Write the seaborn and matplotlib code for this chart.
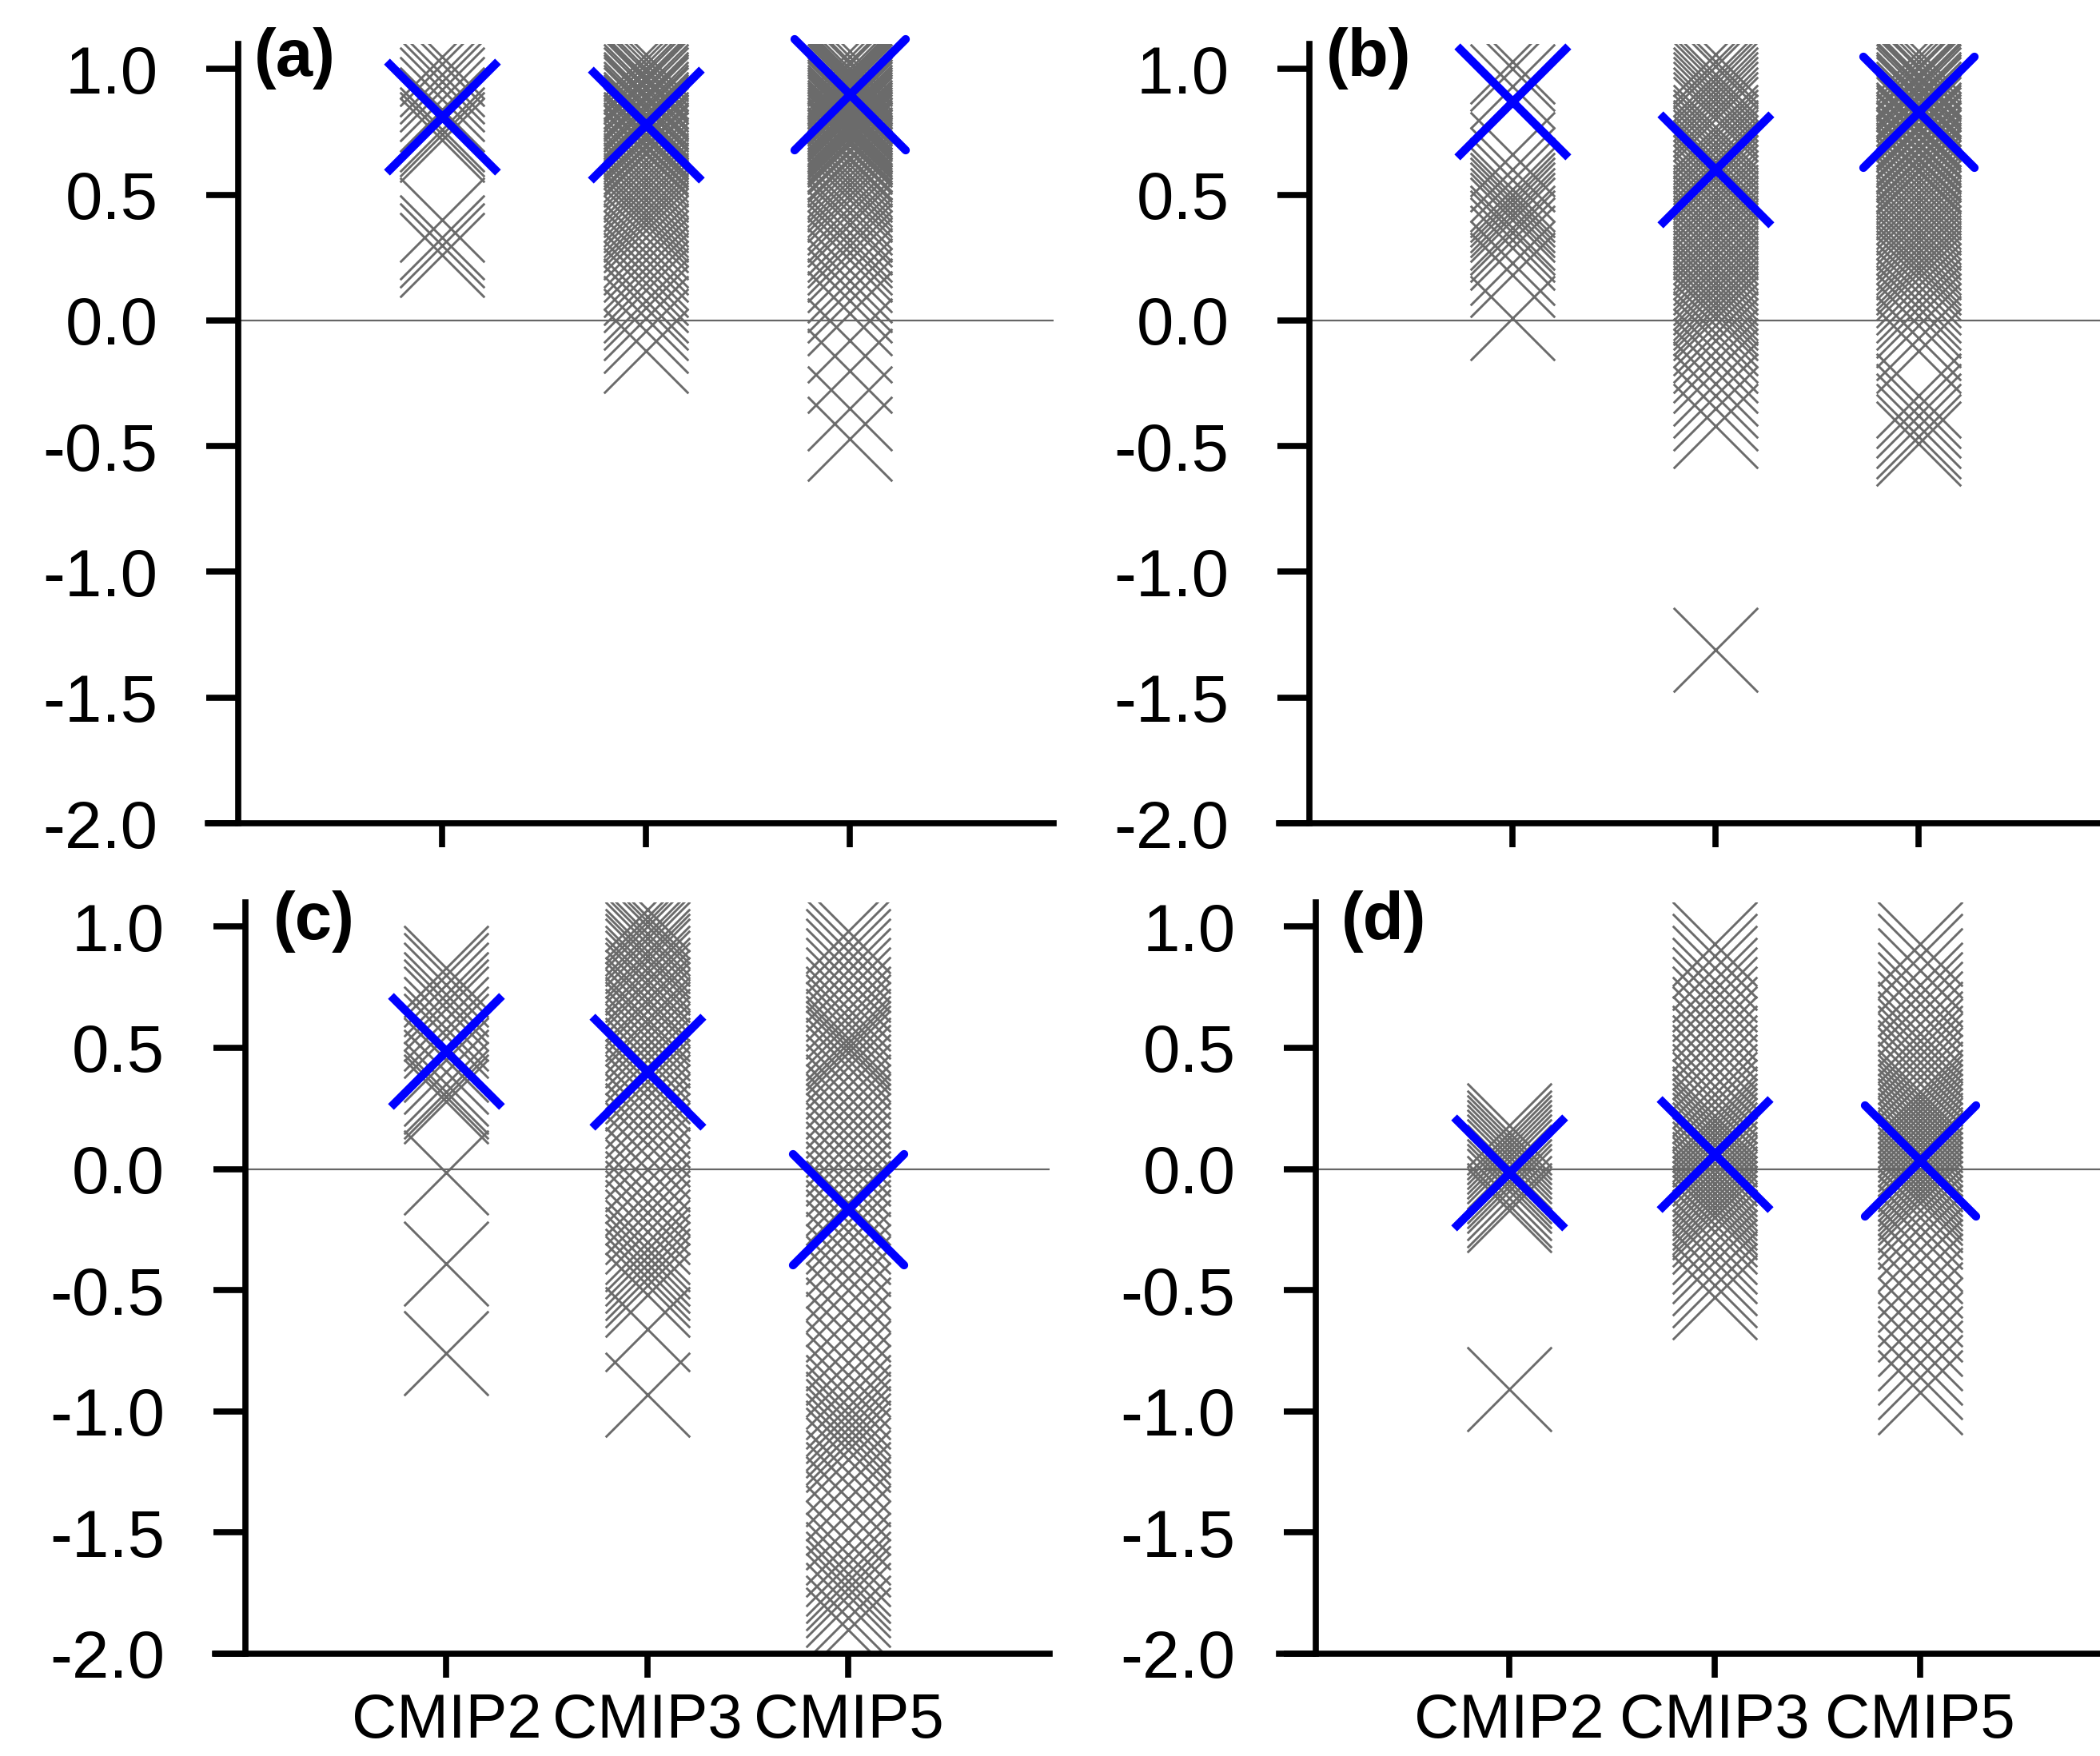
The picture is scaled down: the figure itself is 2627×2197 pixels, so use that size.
import matplotlib
matplotlib.use("Agg")
import matplotlib.pyplot as plt
import pandas as pd
import seaborn as sns

# ---------------- data ----------------
categories = ["CMIP2", "CMIP3", "CMIP5"]
panel_labels = ["(a)", "(b)", "(c)", "(d)"]
ytick_values = [-2.0, -1.5, -1.0, -0.5, 0.0, 0.5, 1.0]

# panel (a)
a_cmip2 = [1.05, 1.02, 0.98, 0.95, 0.92, 0.88, 0.84, 0.80, 0.76, 0.74, 0.72,
           0.40, 0.33, 0.30, 0.26]
a_cmip3 = [1.06, 1.04, 1.02, 1.00, 0.99, 0.97, 0.96, 0.95, 0.93, 0.92, 0.90,
           0.89, 0.88, 0.86, 0.85, 0.84, 0.82, 0.81, 0.80, 0.78, 0.77, 0.76,
           0.74, 0.73, 0.72, 0.70, 0.69, 0.67, 0.66, 0.64, 0.62, 0.60, 0.58,
           0.56, 0.54, 0.52, 0.50, 0.48, 0.46, 0.44, 0.42, 0.40, 0.38, 0.36,
           0.33, 0.30, 0.27, 0.24, 0.21, 0.18, 0.15, 0.12, 0.08, 0.05, 0.01,
           -0.04, -0.12]
a_cmip5 = [1.07, 1.05, 1.03, 1.02, 1.00, 0.99, 0.98, 0.97, 0.96, 0.95, 0.94,
           0.93, 0.92, 0.91, 0.90, 0.89, 0.88, 0.87, 0.86, 0.85, 0.84, 0.83,
           0.82, 0.81, 0.80, 0.79, 0.78, 0.77, 0.76, 0.75, 0.74, 0.73, 0.72,
           0.71, 0.70, 0.68, 0.67, 0.65, 0.64, 0.62, 0.60, 0.58, 0.56, 0.54,
           0.52, 0.50, 0.48, 0.45, 0.43, 0.40, 0.38, 0.35, 0.32, 0.30, 0.27,
           0.24, 0.20, 0.16, 0.12, 0.08, 0.03, -0.08, -0.20, -0.35, -0.47]
a_blue = [0.81, 0.78, 0.90]

# panel (b)
b_cmip2 = [1.03, 1.00, 0.93, 0.86, 0.66, 0.60, 0.56, 0.52, 0.50, 0.48, 0.46,
           0.44, 0.42, 0.40, 0.37, 0.35, 0.32, 0.29, 0.23, 0.18, 0.01]
b_cmip3 = [1.06, 1.03, 1.01, 0.98, 0.96, 0.94, 0.92, 0.90, 0.88, 0.86, 0.84,
           0.82, 0.80, 0.77, 0.75, 0.73, 0.71, 0.69, 0.67, 0.65, 0.63, 0.61,
           0.59, 0.57, 0.55, 0.53, 0.51, 0.49, 0.47, 0.45, 0.43, 0.41, 0.39,
           0.37, 0.35, 0.33, 0.31, 0.29, 0.27, 0.25, 0.23, 0.21, 0.19, 0.17,
           0.15, 0.13, 0.11, 0.09, 0.07, 0.05, 0.03, 0.01, -0.02, -0.05, -0.08,
           -0.12, -0.16, -0.20, -0.25, -0.30, -0.35, -0.42, -1.31]
b_cmip5 = [1.07, 1.05, 1.03, 1.01, 1.00, 0.98, 0.97, 0.96, 0.94, 0.93, 0.92,
           0.90, 0.89, 0.88, 0.86, 0.85, 0.84, 0.82, 0.81, 0.80, 0.78, 0.77,
           0.76, 0.74, 0.73, 0.71, 0.70, 0.68, 0.67, 0.65, 0.64, 0.62, 0.60,
           0.59, 0.57, 0.55, 0.53, 0.51, 0.49, 0.47, 0.45, 0.43, 0.41, 0.39,
           0.37, 0.35, 0.33, 0.31, 0.29, 0.27, 0.25, 0.23, 0.21, 0.19, 0.17,
           0.14, 0.11, 0.08, 0.05, 0.02, -0.02, -0.07, -0.12, -0.30, -0.34,
           -0.38, -0.42, -0.46, -0.49]
b_blue = [0.87, 0.60, 0.83]

# panel (c)
c_cmip2 = [0.83, 0.80, 0.76, 0.72, 0.69, 0.66, 0.62, 0.58, 0.55, 0.50, 0.45,
           0.40, 0.35, 0.32, 0.30, 0.28, -0.015, -0.39, -0.76]
c_cmip3 = [1.07, 1.04, 1.02, 1.00, 0.97, 0.95, 0.93, 0.90, 0.88, 0.86, 0.83,
           0.81, 0.78, 0.76, 0.73, 0.70, 0.68, 0.65, 0.62, 0.60, 0.57, 0.54,
           0.51, 0.48, 0.45, 0.42, 0.39, 0.36, 0.33, 0.30, 0.26, 0.22, 0.18,
           0.14, 0.10, 0.05, 0.00, -0.05, -0.10, -0.14, -0.18, -0.22, -0.26,
           -0.30, -0.33, -0.36, -0.39, -0.42, -0.45, -0.48, -0.52, -0.66, -0.93]
c_cmip5 = [0.98, 0.94, 0.90, 0.86, 0.82, 0.78, 0.74, 0.70, 0.66, 0.63, 0.60,
           0.57, 0.54, 0.52, 0.50, 0.48, 0.45, 0.42, 0.38, 0.34, 0.30, 0.26,
           0.22, 0.18, 0.14, 0.10, 0.06, 0.02, -0.02, -0.06, -0.10, -0.14,
           -0.18, -0.22, -0.26, -0.30, -0.35, -0.40, -0.45, -0.50, -0.56, -0.62,
           -0.68, -0.74, -0.80, -0.85, -0.90, -0.94, -0.98, -1.01, -1.04, -1.07,
           -1.10, -1.13, -1.16, -1.20, -1.25, -1.30, -1.36, -1.42, -1.48, -1.54,
           -1.59, -1.63, -1.67, -1.70, -1.73, -1.76, -1.80, -1.85, -1.90]
c_blue = [0.485, 0.40, -0.165]

# panel (d)
d_cmip2 = [0.18, 0.15, 0.13, 0.11, 0.09, 0.07, 0.05, 0.03, 0.01, -0.01, -0.03,
           -0.05, -0.07, -0.09, -0.12, -0.15, -0.17, -0.91]
d_cmip3 = [0.93, 0.88, 0.83, 0.78, 0.74, 0.70, 0.66, 0.62, 0.58, 0.54, 0.50,
           0.46, 0.42, 0.38, 0.34, 0.31, 0.28, 0.25, 0.22, 0.20, 0.18, 0.16,
           0.14, 0.12, 0.10, 0.08, 0.06, 0.04, 0.02, 0.00, -0.02, -0.04, -0.06,
           -0.08, -0.10, -0.12, -0.14, -0.16, -0.18, -0.20, -0.23, -0.26, -0.30,
           -0.34, -0.38, -0.43, -0.48, -0.53]
d_cmip5 = [0.93, 0.88, 0.82, 0.76, 0.72, 0.68, 0.64, 0.60, 0.56, 0.53, 0.50,
           0.47, 0.44, 0.41, 0.38, 0.35, 0.32, 0.30, 0.28, 0.26, 0.24, 0.22,
           0.20, 0.18, 0.16, 0.14, 0.12, 0.10, 0.08, 0.06, 0.04, 0.02, 0.00,
           -0.02, -0.04, -0.06, -0.08, -0.10, -0.12, -0.14, -0.17, -0.20, -0.24,
           -0.28, -0.33, -0.38, -0.44, -0.50, -0.56, -0.62, -0.68, -0.74, -0.80,
           -0.86, -0.92]
d_blue = [-0.015, 0.06, 0.035]

panels = [
    (a_cmip2, a_cmip3, a_cmip5, a_blue),
    (b_cmip2, b_cmip3, b_cmip5, b_blue),
    (c_cmip2, c_cmip3, c_cmip5, c_blue),
    (d_cmip2, d_cmip3, d_cmip5, d_blue),
]

# ---------------- style ----------------
sns.set_theme(style="white")
plt.rcParams["font.family"] = ["Liberation Sans", "DejaVu Sans"]
plt.rcParams["axes.unicode_minus"] = False

W, H = 2627, 2197
fig = plt.figure(figsize=(W / 100, H / 100), dpi=100)

# (left px, width px, top px, bottom px, xlim, spine x, label dx pt, label dy pt)
layout = [
    (260, 1058, 55, 1030, (-1.15, 3.0), -1.0, 14, 15),
    (1600, 1054, 55, 1030, (-1.15, 3.0), -1.0, 15, 15),
    (269, 1044, 1129, 2069, (-1.15, 3.0), -1.0, 25, 11),
    (1600, 1059, 1129, 2069, (-1.12, 3.0), -0.94, 23, 11),
]

gray = "#6b6b6b"
for i, (vals, lay) in enumerate(zip(panels, layout)):
    left, width, top, bottom, xl, spx, ldx, ldy = lay
    ax = fig.add_axes([left / W, (H - bottom) / H, width / W, (bottom - top) / H])
    ax.set_facecolor("white")

    groups, values = [], []
    for cat, arr in zip(categories, vals[:3]):
        groups += [cat] * len(arr)
        values += list(arr)
    df = pd.DataFrame({"group": groups, "value": values})
    sns.stripplot(data=df, x="group", y="value", order=categories, jitter=False,
                  marker="x", size=76, color=gray, linewidth=2.1, ax=ax, zorder=1)

    bdf = pd.DataFrame({"group": categories, "value": vals[3]})
    sns.stripplot(data=bdf, x="group", y="value", order=categories, jitter=False,
                  marker="x", size=100, color="#0000ff", linewidth=7.5, ax=ax,
                  zorder=4, clip_on=False)
    ax.collections[-1].set_capstyle("round")

    ax.set_xlim(*xl)
    ax.set_ylim(-2.0, 1.1)
    ax.axhline(0, xmin=(spx - xl[0]) / (xl[1] - xl[0]), xmax=1,
               color="#666666", lw=1.6, zorder=2.5)

    ax.set_yticks(ytick_values)
    ax.set_yticklabels([f"{v:.1f}" for v in ytick_values])
    ax.set_xticks([0, 1, 2])
    ax.set_xticklabels(categories)
    ax.set_xlabel("")
    ax.set_ylabel("")

    for s in ["top", "right"]:
        ax.spines[s].set_visible(False)
    for s in ["left", "bottom"]:
        ax.spines[s].set_linewidth(5.5)
        ax.spines[s].set_color("black")
    ax.spines["left"].set_position(("data", spx))

    ax.tick_params(axis="y", direction="out", length=28.5, width=5.5, pad=44,
                   labelsize=60, color="black", labelcolor="black", left=True)
    ax.tick_params(axis="x", direction="out", length=21.5, width=5.5, pad=13,
                   labelsize=56, color="black", labelcolor="black", bottom=True,
                   labelbottom=(i >= 2))

    ax.annotate(panel_labels[i], xy=(spx, 1.0), xycoords=("data", "axes fraction"),
                xytext=(ldx, ldy), textcoords="offset points", ha="left", va="top",
                fontsize=60, fontweight="bold", color="black",
                annotation_clip=False)

fig.savefig("out.png", dpi=100)
